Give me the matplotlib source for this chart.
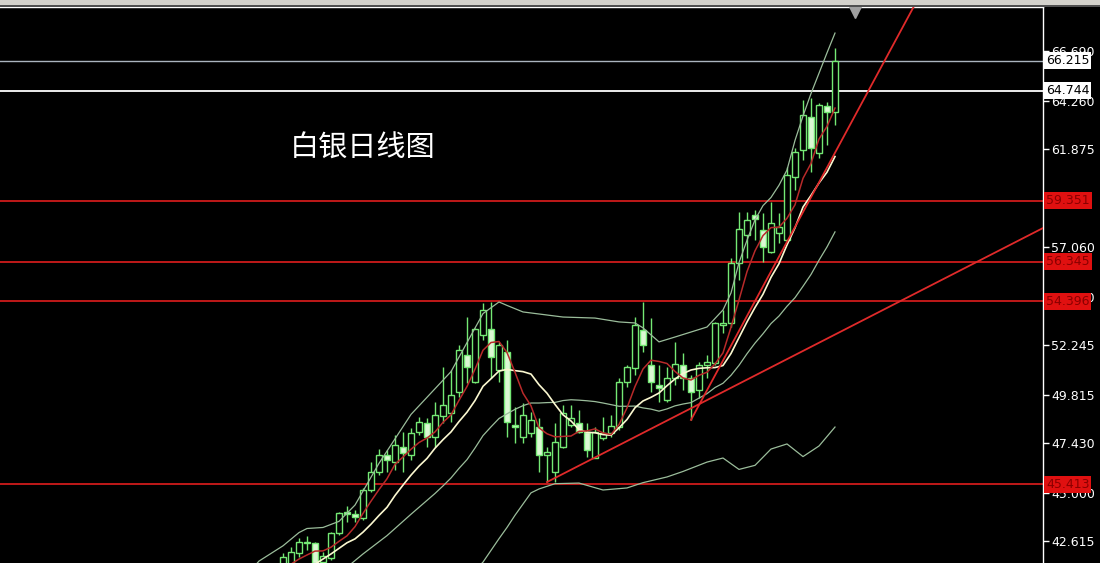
import matplotlib
matplotlib.use("Agg")
import matplotlib.pyplot as plt
import numpy as np
from matplotlib.transforms import blended_transform_factory
from matplotlib.patches import Rectangle

# ---------------- data (daily candles, index 0 = leftmost visible) ----------------
opens = [41.41, 41.41, 42.05, 42.54, 42.54, 41.60, 41.80, 43.03, 44.06, 43.96,
         43.77, 45.14, 46.02, 46.86, 46.51, 47.26, 46.86, 47.99, 48.43, 47.74,
         48.77, 48.92, 49.95, 51.77, 50.44, 52.75, 53.04, 51.03, 51.92, 48.33,
         47.74, 47.94, 48.23, 46.86, 46.02, 47.26, 48.33, 48.43, 47.99, 46.71,
         47.69, 47.94, 48.23, 50.44, 51.13, 52.99, 51.28, 50.29, 49.56, 50.64,
         51.28, 50.64, 50.05, 51.28, 51.37, 53.24, 53.34, 56.28, 57.66, 58.64,
         57.90, 56.82, 57.76, 57.41, 60.51, 61.83, 63.45, 61.68, 63.99, 63.70]
highs = [42.05, 42.34, 42.78, 42.88, 42.59, 42.10, 43.08, 44.06, 44.36, 44.16,
         45.24, 46.51, 47.16, 47.11, 47.84, 47.99, 48.18, 48.72, 48.67, 49.46,
         51.18, 51.03, 52.26, 53.63, 53.09, 54.32, 54.37, 52.41, 52.50, 49.22,
         49.41, 48.97, 48.67, 47.26, 48.43, 49.31, 49.31, 49.07, 48.43, 48.23,
         48.72, 48.82, 50.64, 51.28, 53.63, 54.37, 53.58, 51.28, 51.18, 52.41,
         51.87, 50.79, 51.42, 51.77, 53.39, 53.98, 56.53, 58.79, 58.79, 58.88,
         58.74, 59.28, 58.74, 60.99, 61.93, 64.29, 64.38, 64.14, 64.19, 66.84]
lows = [41.21, 41.21, 41.85, 42.19, 41.41, 41.41, 41.70, 42.93, 43.57, 43.57,
        43.67, 45.04, 45.88, 46.02, 46.12, 46.02, 46.61, 47.84, 47.26, 47.26,
        48.43, 48.48, 49.71, 50.39, 50.39, 52.50, 50.64, 50.44, 47.74, 47.45,
        47.45, 47.74, 46.02, 45.53, 45.53, 47.21, 48.23, 47.94, 46.76, 46.71,
        47.60, 47.74, 48.09, 50.19, 50.79, 51.92, 49.95, 49.46, 49.46, 50.29,
        50.05, 48.58, 49.66, 50.64, 51.28, 52.85, 53.14, 55.45, 56.53, 57.41,
        56.33, 56.77, 57.26, 57.31, 59.87, 61.34, 60.75, 61.44, 62.08, 63.06]
closes = [41.85, 42.10, 42.59, 42.59, 41.56, 41.90, 43.03, 44.01, 43.96, 43.82,
          45.14, 46.02, 46.86, 46.61, 47.35, 46.96, 47.94, 48.48, 47.74, 48.82,
          49.31, 49.80, 52.01, 51.18, 53.04, 53.98, 51.67, 52.26, 48.48, 48.23,
          48.82, 48.58, 46.86, 47.01, 47.50, 48.92, 48.67, 47.99, 47.11, 47.99,
          47.94, 48.28, 50.44, 51.18, 53.24, 52.26, 50.44, 50.15, 50.64, 51.33,
          50.64, 49.95, 51.28, 51.42, 53.34, 53.34, 56.28, 57.95, 58.39, 58.44,
          57.07, 58.25, 58.05, 60.60, 61.73, 63.55, 61.93, 64.04, 63.70, 66.22]

# red moving average
ma_red_idx = list(range(1, 70))
ma_red_val = [41.50, 41.75, 41.95, 42.14, 42.15, 42.33, 42.62, 42.89, 43.34, 43.99,
              44.59, 45.16, 45.69, 46.40, 46.76, 47.14, 47.47, 47.69, 47.99, 48.46,
              48.83, 49.54, 50.22, 51.07, 52.00, 52.38, 52.43, 51.89, 50.92, 49.89,
              49.27, 48.19, 47.90, 47.75, 47.77, 47.79, 48.02, 48.04, 48.14, 47.94,
              47.86, 48.35, 49.17, 50.22, 51.08, 51.51, 51.45, 51.35, 50.96, 50.64,
              50.54, 50.77, 50.92, 51.33, 51.87, 53.13, 54.47, 55.86, 56.88, 57.63,
              58.02, 58.04, 58.48, 59.14, 60.44, 61.17, 62.37, 62.99, 63.89]

# white moving average
ma_white_idx = [4, 6, 8] + list(range(9, 70))
ma_white_val = [41.50, 42.00, 42.55, 42.74, 43.07, 43.46, 43.89, 44.29, 44.87, 45.38,
                45.87, 46.31, 46.69, 47.19, 47.61, 47.99, 48.50, 48.96, 49.53, 50.23,
                50.60, 50.98, 51.06, 51.00, 50.95, 50.83, 50.31, 49.89, 49.34, 48.83,
                48.53, 48.11, 47.97, 47.95, 47.86, 47.83, 48.19, 48.60, 49.18, 49.51,
                49.69, 49.90, 50.26, 50.59, 50.86, 51.03, 51.11, 51.14, 51.15, 51.25,
                51.84, 52.62, 53.39, 54.10, 54.75, 55.58, 56.25, 57.17, 58.01, 59.03,
                59.60, 60.21, 60.74, 61.51]

# Bollinger bands
bb_mid_idx = [8, 10, 13, 16] + list(range(19, 70))
bb_mid_val = [41.35, 42.00, 42.90, 43.95, 44.97, 45.34, 45.73, 46.20, 46.63, 47.20,
              47.81, 48.24, 48.65, 48.88, 49.10, 49.28, 49.41, 49.41, 49.43, 49.44,
              49.53, 49.57, 49.55, 49.52, 49.48, 49.41, 49.33, 49.25, 49.25, 49.26,
              49.17, 49.11, 49.01, 49.12, 49.27, 49.36, 49.43, 49.65, 49.87, 50.17,
              50.38, 50.77, 51.26, 51.83, 52.35, 52.81, 53.31, 53.68, 54.16, 54.58,
              55.14, 55.72, 56.42, 57.07, 57.81]
bb_up_idx = [-4, -3, 0, 2, 3, 5, 7, 9, 12, 16, 21, 25, 27, 28, 30, 35, 39, 42, 44,
             45, 47, 49, 53, 55, 56, 57, 58, 59, 60, 61, 62, 63, 64, 65, 66, 67, 68, 69]
bb_up_val = [41.20, 41.65, 42.40, 43.05, 43.25, 43.30, 43.60, 44.40, 46.45, 48.85,
             50.95, 53.80, 54.37, 54.20, 53.88, 53.63, 53.58, 53.39, 53.34, 53.10,
             52.41, 52.65, 53.14, 53.98, 54.81, 56.30, 57.40, 58.40, 59.10, 59.50,
             60.10, 60.85, 62.30, 63.50, 64.60, 65.60, 66.60, 67.57]
bb_low_idx = [24, 25, 27, 28, 29, 31, 32, 34, 37, 40, 43, 45, 48, 50, 53, 55, 57,
              59, 61, 63, 65, 67, 69]
bb_low_val = [41.20, 41.60, 42.75, 43.30, 43.90, 45.00, 45.19, 45.45, 45.48, 45.14,
              45.24, 45.50, 45.78, 46.05, 46.51, 46.71, 46.15, 46.35, 47.15, 47.40,
              46.78, 47.30, 48.23]

# horizontal levels
red_levels = [59.351, 56.345, 54.396, 45.413]
white_level = 64.744
gray_level = 66.215

# trend lines (index, price)
trend_up_idx = [33, 95]
trend_up_val = [45.53, 58.00]
trend_steep_idx = [51, 80]
trend_steep_val = [48.58, 69.71]

ytick_vals = [66.690, 64.260, 61.875, 57.060, 54.630, 52.245, 49.815, 47.430, 45.000, 42.615]
ytick_labels = ["66.690", "64.260", "61.875", "57.060", "54.630", "52.245",
                "49.815", "47.430", "45.000", "42.615"]

title_text = "白银日线图"

# ---------------- figure ----------------
W, H = 1100, 563
fig = plt.figure(figsize=(W / 100, H / 100), dpi=100, facecolor="black")
ax = fig.add_axes([0, 0, 1043 / W, 556 / H])
ax.set_facecolor("black")
ax.set_xlim(-35.375, 95.0)
ax.set_ylim(41.556, 68.85)

green = "#74e874"
bear_fill = "#dcf8d4"

o = np.array(opens); h = np.array(highs); l = np.array(lows); c = np.array(closes)
idx = np.arange(len(o))
bull = c >= o

# horizontal lines
for v in red_levels:
    ax.axhline(v, color="#e01e1e", lw=1.2, zorder=1)
ax.axhline(white_level, color="white", lw=1.3, zorder=1)
ax.axhline(gray_level, color="#aab4be", lw=1.0, zorder=1)

# wicks
ax.vlines(idx, l, h, color=green, lw=1.0, zorder=2)
# bodies
body_h = np.maximum(np.abs(c - o), 0.06)
body_b = np.minimum(o, c)
ax.bar(idx[bull], body_h[bull], bottom=body_b[bull], width=0.72,
       facecolor="black", edgecolor=green, linewidth=1.0, zorder=3)
ax.bar(idx[~bull], body_h[~bull], bottom=body_b[~bull], width=0.72,
       facecolor=bear_fill, edgecolor=green, linewidth=1.0, zorder=3)

# indicators
bb_col = "#9bbd9b"
ax.plot(bb_up_idx, bb_up_val, color=bb_col, lw=0.9, zorder=4)
ax.plot(bb_mid_idx, bb_mid_val, color=bb_col, lw=0.9, zorder=4)
ax.plot(bb_low_idx, bb_low_val, color=bb_col, lw=0.9, zorder=4)
ax.plot(ma_white_idx, ma_white_val, color="#fbf8d0", lw=1.2, zorder=4)
ax.plot(ma_red_idx, ma_red_val, color="#b82a2a", lw=1.1, zorder=4)

# trend lines
ax.plot(trend_up_idx, trend_up_val, color="#e02a2a", lw=1.3, zorder=5)
ax.plot(trend_steep_idx, trend_steep_val, color="#e02a2a", lw=1.3, zorder=5)

# shift marker
ax.plot([71.5], [68.62], marker="v", color="#a0a0a0", markersize=8, zorder=6,
        clip_on=False)

# spines / axis
for s in ["left", "bottom"]:
    ax.spines[s].set_visible(False)
for s in ["top", "right"]:
    ax.spines[s].set_color("white")
    ax.spines[s].set_linewidth(1.0)
ax.set_xticks([])
ax.yaxis.tick_right()
ax.set_yticks(ytick_vals)
ax.set_yticklabels(ytick_labels)
ax.tick_params(axis="y", colors="white", labelcolor="white", labelsize=9,
               length=4, width=1, direction="out", pad=2)

# price labels on the axis (drawn over the tick labels as in the terminal)
trans = blended_transform_factory(ax.transAxes, ax.transData)
x0 = 1 + 3 / 1043
for v in red_levels:
    ax.text(x0, v, f"{v:.3f}", transform=trans, color="#8a0000", fontsize=9,
            va="center", ha="left", clip_on=False, zorder=10,
            bbox=dict(boxstyle="square,pad=0.15", fc="#e01010", ec="none"))
for v in [gray_level, white_level]:
    ax.text(x0, v, f"{v:.3f}", transform=trans, color="black", fontsize=9,
            va="center", ha="left", clip_on=False, zorder=10,
            bbox=dict(boxstyle="square,pad=0.15", fc="white", ec="none"))

# top toolbar strip
fig.patches.append(Rectangle((0, 1 - 5 / H), 1, 5 / H, transform=fig.transFigure,
                             fc="#d4d2cc", ec="none", zorder=0))
fig.patches.append(Rectangle((0, 1 - 7 / H), 1, 2 / H, transform=fig.transFigure,
                             fc="#505050", ec="none", zorder=0))

# title
fig.text(290 / W, 1 - 149 / H, title_text, fontsize=21, color="white",
         family=["Noto Sans CJK SC", "DejaVu Sans"], va="center", ha="left")

fig.savefig("out.png", dpi=100, facecolor="black")
